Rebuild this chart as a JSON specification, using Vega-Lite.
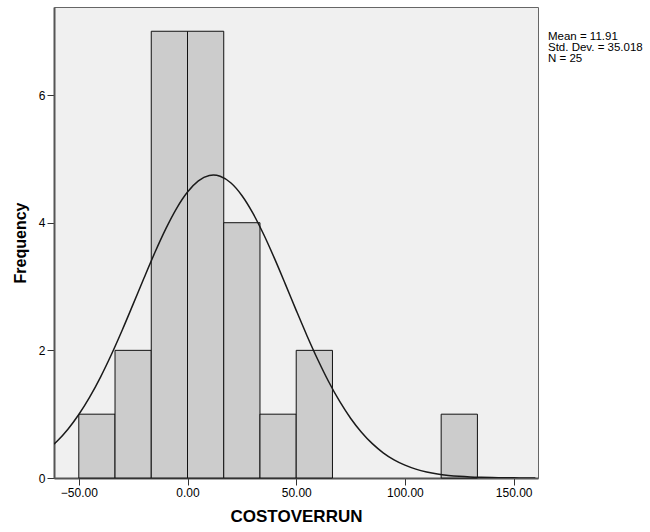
{
  "$schema": "https://vega.github.io/schema/vega-lite/v6.json",
  "width": 484,
  "height": 471,
  "autosize": {"type": "none"},
  "padding": {"left": 54, "top": 7, "right": 112, "bottom": 54},
  "background": "white",
  "config": {
    "view": {"fill": "#f0f0f0", "stroke": "#666666", "strokeWidth": 1},
    "font": "Liberation Sans",
    "axis": {
      "grid": false,
      "domainColor": "#555555",
      "domainWidth": 2,
      "tickColor": "#333333",
      "tickSize": 7,
      "tickWidth": 1,
      "labelFont": "Liberation Sans",
      "labelFontSize": 12,
      "labelColor": "#000000",
      "titleFont": "Liberation Sans",
      "titleFontSize": 16,
      "titleFontWeight": "bold",
      "titleColor": "#000000"
    }
  },
  "datasets": {
    "bins": [
      {"bin_start": -50.0, "bin_end": -33.333, "count": 1},
      {"bin_start": -33.333, "bin_end": -16.667, "count": 2},
      {"bin_start": -16.667, "bin_end": 0.0, "count": 7},
      {"bin_start": 0.0, "bin_end": 16.667, "count": 7},
      {"bin_start": 16.667, "bin_end": 33.333, "count": 4},
      {"bin_start": 33.333, "bin_end": 50.0, "count": 1},
      {"bin_start": 50.0, "bin_end": 66.667, "count": 2},
      {"bin_start": 116.667, "bin_end": 133.333, "count": 1}
    ],
    "curve": [
      {"x": -61.4, "y": 0.531},
      {"x": -60, "y": 0.576},
      {"x": -55, "y": 0.765},
      {"x": -50, "y": 0.995},
      {"x": -45, "y": 1.267},
      {"x": -40, "y": 1.582},
      {"x": -35, "y": 1.935},
      {"x": -30, "y": 2.319},
      {"x": -25, "y": 2.724},
      {"x": -20, "y": 3.134},
      {"x": -15, "y": 3.533},
      {"x": -10, "y": 3.903},
      {"x": -5, "y": 4.225},
      {"x": 0, "y": 4.480},
      {"x": 5, "y": 4.655},
      {"x": 10, "y": 4.740},
      {"x": 11.91, "y": 4.747},
      {"x": 15, "y": 4.728},
      {"x": 20, "y": 4.622},
      {"x": 25, "y": 4.427},
      {"x": 30, "y": 4.154},
      {"x": 35, "y": 3.819},
      {"x": 40, "y": 3.441},
      {"x": 45, "y": 3.038},
      {"x": 50, "y": 2.627},
      {"x": 55, "y": 2.226},
      {"x": 60, "y": 1.849},
      {"x": 65, "y": 1.504},
      {"x": 70, "y": 1.199},
      {"x": 75, "y": 0.937},
      {"x": 80, "y": 0.717},
      {"x": 85, "y": 0.538},
      {"x": 90, "y": 0.395},
      {"x": 95, "y": 0.284},
      {"x": 100, "y": 0.201},
      {"x": 105, "y": 0.139},
      {"x": 110, "y": 0.094},
      {"x": 115, "y": 0.062},
      {"x": 120, "y": 0.041},
      {"x": 125, "y": 0.026},
      {"x": 130, "y": 0.016},
      {"x": 135, "y": 0.010},
      {"x": 140, "y": 0.006},
      {"x": 145, "y": 0.0035},
      {"x": 150, "y": 0.002},
      {"x": 155, "y": 0.001},
      {"x": 160, "y": 0.0006}
    ],
    "stats": [
      {"label": "Mean = 11.91\nStd. Dev. = 35.018\nN = 25"}
    ]
  },
  "layer": [
    {
      "data": {"name": "bins"},
      "mark": {"type": "bar", "fill": "#cccccc", "stroke": "#111111", "strokeWidth": 1},
      "encoding": {
        "x": {
          "field": "bin_start",
          "type": "quantitative",
          "scale": {"domain": [-61.4, 161.2], "nice": false, "zero": false},
          "axis": {
            "values": [-50, 0, 50, 100, 150],
            "format": ".2f",
            "title": "COSTOVERRUN",
            "titleFontSize": 17,
            "labelPadding": 2,
            "titlePadding": 10
          }
        },
        "x2": {"field": "bin_end"},
        "y": {
          "field": "count",
          "type": "quantitative",
          "scale": {"domain": [0, 7.38], "nice": false},
          "axis": {
            "values": [0, 2, 4, 6],
            "format": "d",
            "title": "Frequency",
            "labelPadding": 2,
            "titlePadding": 10
          }
        },
        "y2": {"datum": 0}
      }
    },
    {
      "data": {"name": "curve"},
      "mark": {"type": "line", "color": "#1a1a1a", "strokeWidth": 1.5, "interpolate": "monotone", "clip": true},
      "encoding": {
        "x": {"field": "x", "type": "quantitative"},
        "y": {"field": "y", "type": "quantitative"}
      }
    },
    {
      "data": {"name": "stats"},
      "mark": {
        "type": "text",
        "align": "left",
        "baseline": "alphabetic",
        "fontSize": 11.5,
        "lineHeight": 11,
        "lineBreak": "\n",
        "font": "Liberation Sans",
        "color": "#000000"
      },
      "encoding": {
        "text": {"field": "label"},
        "x": {"datum": 165.8, "type": "quantitative"},
        "y": {"datum": 6.87, "type": "quantitative"}
      }
    }
  ]
}
